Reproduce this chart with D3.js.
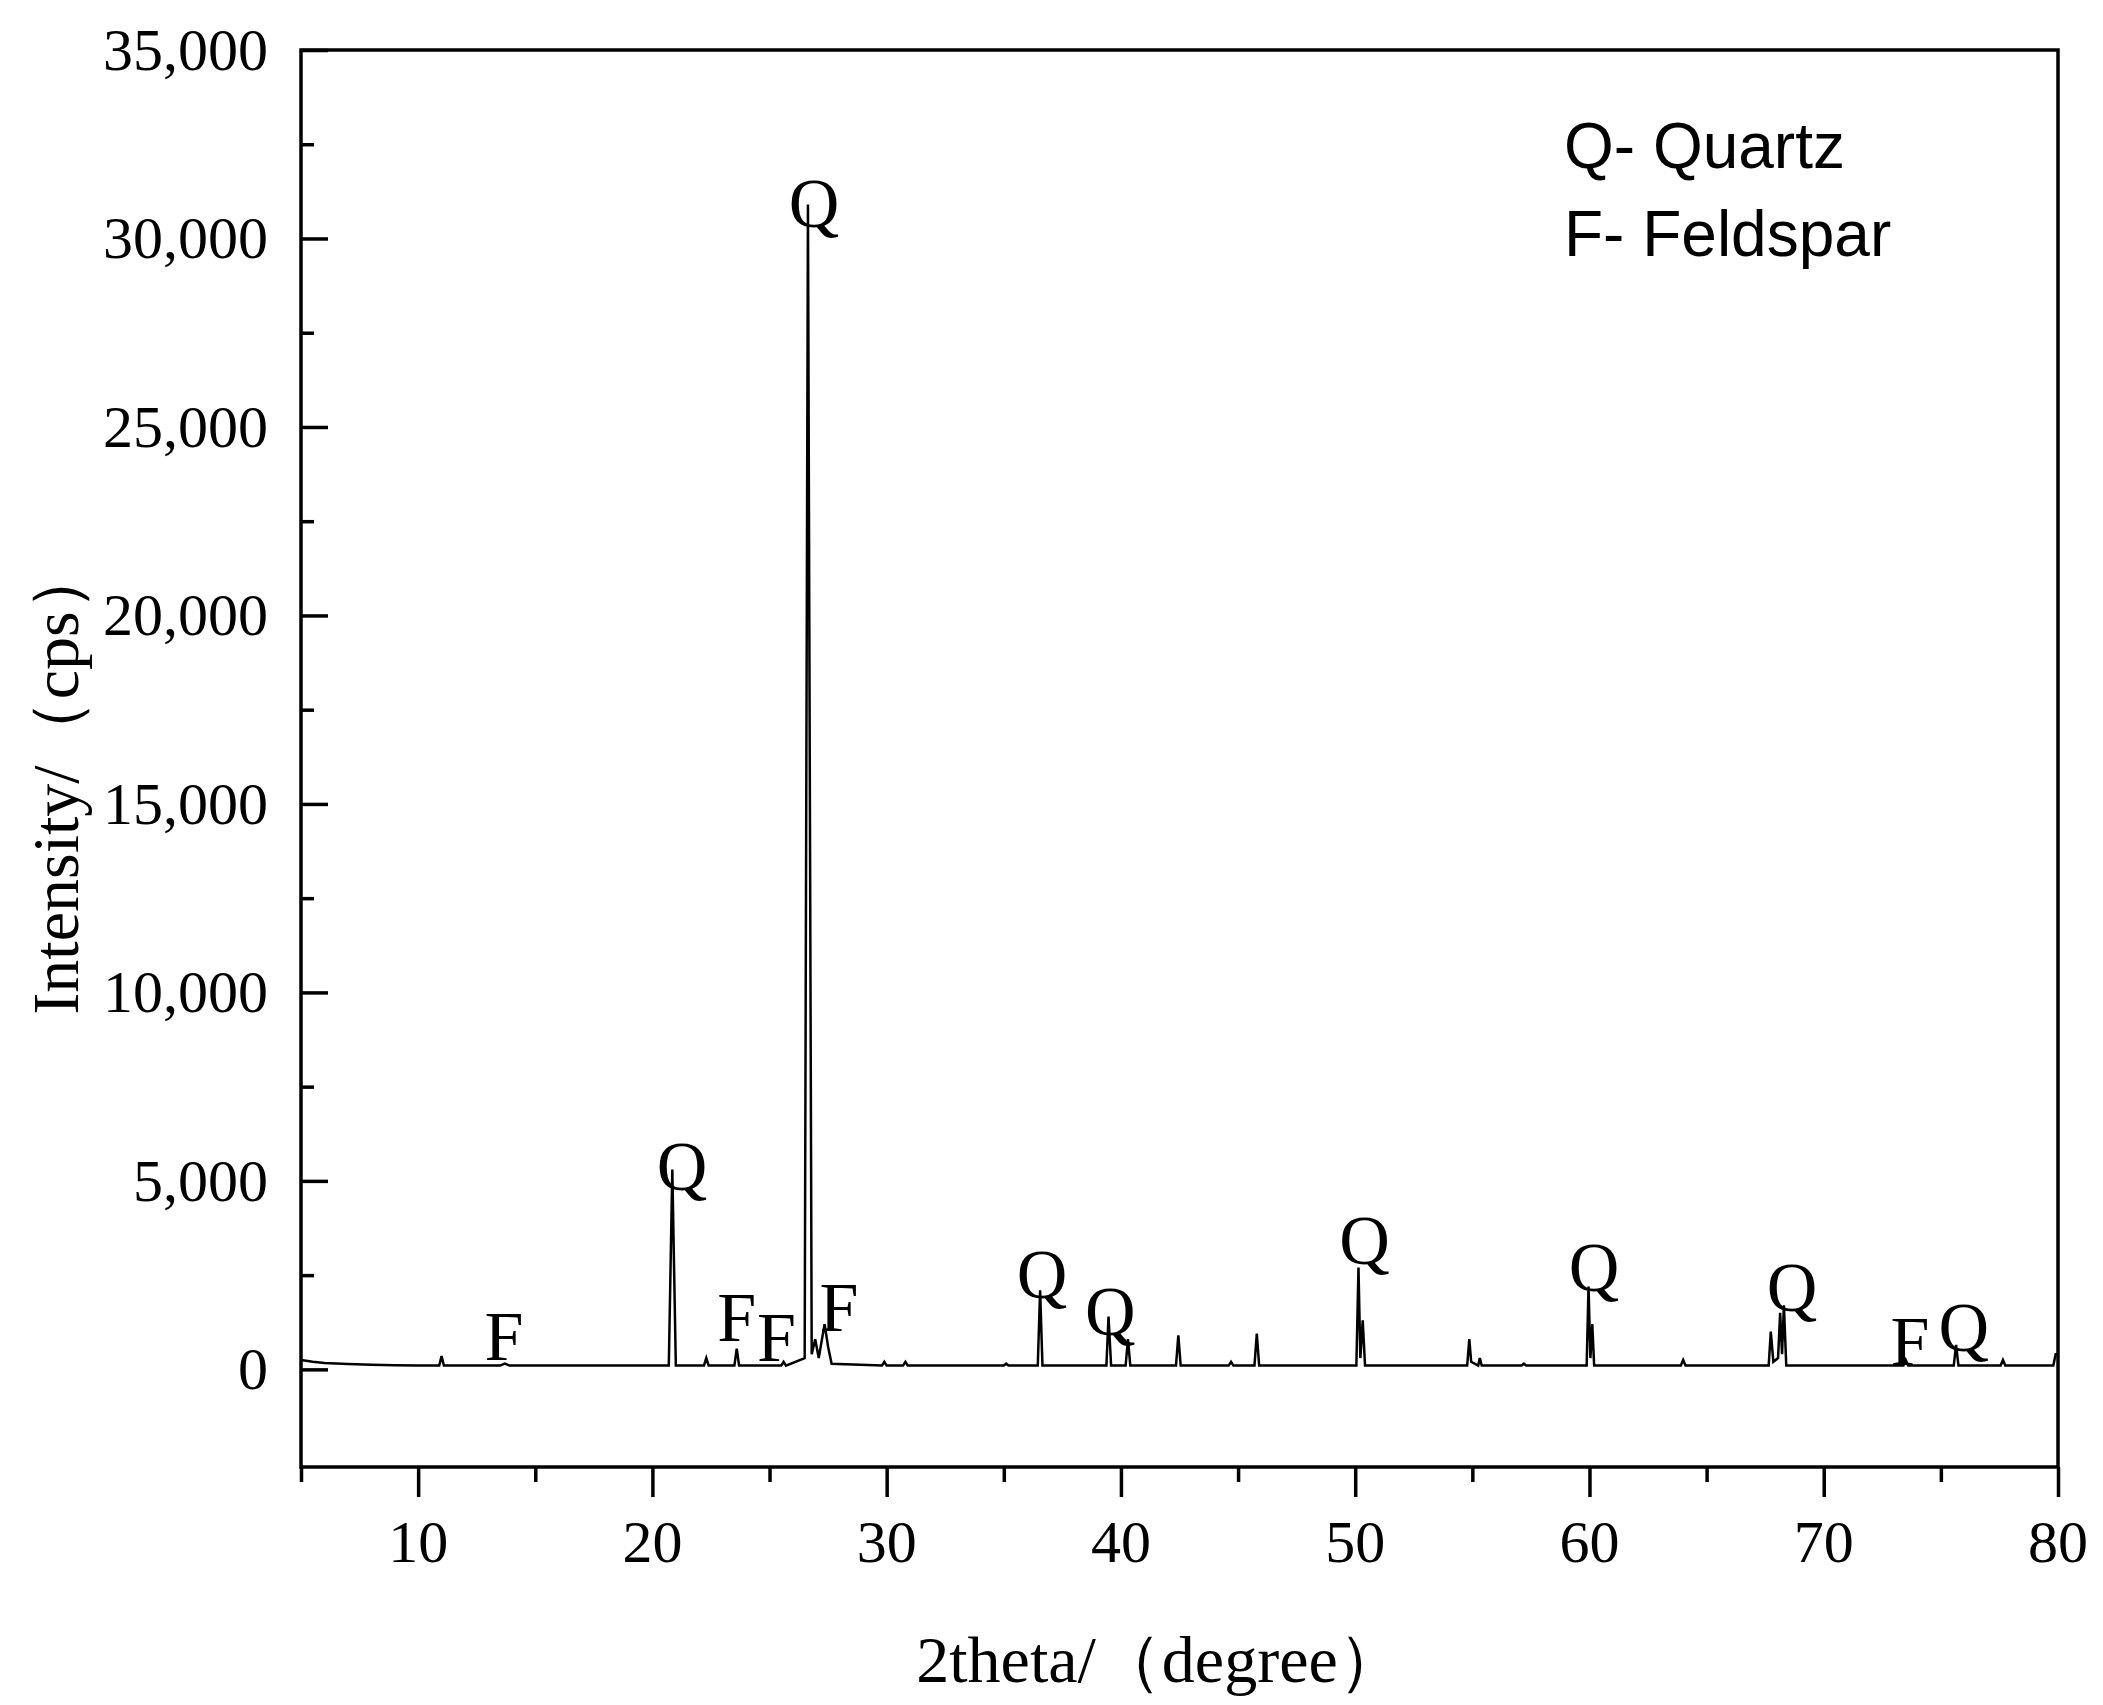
<!DOCTYPE html>
<html><head><meta charset="utf-8">
<script src="https://cdn.jsdelivr.net/npm/d3@7"></script>
<style>body{margin:0;background:#fff}</style></head>
<body><svg id="c" width="2103" height="1705"></svg>
<script>
// 2theta positions and intensities (cps) of pattern points
const twoTheta = [5,5.5,6,7,8,9,10,10.9,11.0,11.1,13.5,13.7,13.9,20.7,20.85,21.0,22.2,22.3,22.4,23.5,23.6,23.7,25.5,25.6,25.7,26.5,26.64,26.8,26.95,27.1,27.35,27.5,27.65,29.8,29.9,30.0,30.7,30.8,30.9,35.0,35.1,35.2,36.45,36.55,36.65,39.38,39.47,39.58,40.2,40.3,40.4,42.35,42.45,42.55,44.6,44.7,44.8,45.7,45.8,45.9,50.05,50.14,50.22,50.32,50.42,54.78,54.87,54.95,55.25,55.32,55.4,57.1,57.2,57.3,59.88,59.96,60.04,60.12,60.2,63.9,64.0,64.1,67.65,67.74,67.85,68.05,68.14,68.22,68.3,68.4,73.4,73.5,73.6,75.55,75.65,75.75,77.55,77.65,77.75,79.8,79.9,80];
const intensity = [250,200,170,140,120,110,100,100,350,100,100,150,100,100,5300,100,100,300,100,100,550,100,100,200,100,300,30900,400,800,300,1200,600,150,100,200,100,100,200,100,100,150,100,100,2100,100,100,1400,100,100,800,100,100,900,100,100,200,100,100,950,100,100,2700,300,1300,100,100,800,200,100,300,100,100,150,100,100,2200,300,1200,100,100,250,100,100,1000,200,300,1500,400,1700,100,100,250,100,100,650,100,100,250,100,100,400,400];
const yTicks = [0,5000,10000,15000,20000,25000,30000,35000];
const xTicks = [10,20,30,40,50,60,70,80];
const labelText = ["F","Q","F","F","F","Q","Q","Q","Q","Q","Q","F","Q"];
const labelX = [13.66,21.26,23.6,25.3,27.96,26.9,36.63,39.54,50.4,60.2,68.65,73.68,75.98];
const labelY = [900,5415,1426,898,1690,30980,2565,1585,3455,2740,2210,790,1160];
const legendItems = ["Q- Quartz","F- Feldspar"];

const svg = d3.select("#c");
const L=301,R=2058,T=50,B=1467;
const x = d3.scaleLinear().domain([5,80]).range([L,R]);
const y = d3.scaleLinear().domain([-2590,35000]).range([B,T]);
const serif = "'Liberation Serif','Times New Roman',serif";

// frame
svg.append("rect").attr("x",L).attr("y",T).attr("width",R-L).attr("height",B-T)
  .attr("fill","none").attr("stroke","#000").attr("stroke-width",3.5);

// y axis ticks (inward)
const yAx = svg.append("g").attr("transform",`translate(${L},0)`)
  .call(d3.axisRight(y).tickValues(yTicks).tickSize(27).tickFormat(""));
yAx.select(".domain").remove();
yAx.selectAll("line").attr("stroke-width",3.5);
const yMinor = svg.append("g").attr("transform",`translate(${L},0)`)
  .call(d3.axisRight(y).tickValues(d3.range(2500,35000,5000)).tickSize(13).tickFormat(""));
yMinor.select(".domain").remove();
yMinor.selectAll("line").attr("stroke-width",3.5);
svg.selectAll(".ylab").data(yTicks).join("text")
  .attr("x",268).attr("y",d=>y(d)+20).attr("text-anchor","end")
  .attr("font-family",serif).attr("font-size",60).text(d3.format(","));

// x axis ticks (outward)
const xAx = svg.append("g").attr("transform",`translate(0,${B})`)
  .call(d3.axisBottom(x).tickValues(xTicks).tickSize(30).tickFormat(""));
xAx.select(".domain").remove();
xAx.selectAll("line").attr("stroke-width",3.5);
const xMinor = svg.append("g").attr("transform",`translate(0,${B})`)
  .call(d3.axisBottom(x).tickValues(d3.range(5,80,10)).tickSize(15).tickFormat(""));
xMinor.select(".domain").remove();
xMinor.selectAll("line").attr("stroke-width",3.5);
svg.selectAll(".xlab").data(xTicks).join("text")
  .attr("x",d=>x(d)).attr("y",1562).attr("text-anchor","middle")
  .attr("font-family",serif).attr("font-size",60).text(d=>d);

// titles
svg.append("text").attr("x",1160).attr("y",1682).attr("text-anchor","middle")
  .attr("font-family",serif).attr("font-size",66).text("2theta/（degree）");
svg.append("text").attr("transform","translate(78,780) rotate(-90)").attr("text-anchor","middle")
  .attr("font-family",serif).attr("font-size",66).text("Intensity/（cps）");

// pattern
const pts = twoTheta.map((t,i)=>[t,intensity[i]]);
svg.append("path").datum(pts)
  .attr("d",d3.line().x(d=>x(d[0])).y(d=>y(d[1])))
  .attr("fill","none").attr("stroke","#000").attr("stroke-width",2.5);

// peak labels
svg.selectAll(".pk").data(labelText).join("text")
  .attr("x",(d,i)=>x(labelX[i])).attr("y",(d,i)=>y(labelY[i])+25)
  .attr("text-anchor","middle").attr("font-family",serif).attr("font-size",70).text(d=>d);

// legend
svg.selectAll(".lg").data(legendItems).join("text")
  .attr("x",1564).attr("y",(d,i)=>168+i*88)
  .attr("font-family","'Liberation Sans',Arial,sans-serif").attr("font-size",64).text(d=>d);
</script></body></html>
